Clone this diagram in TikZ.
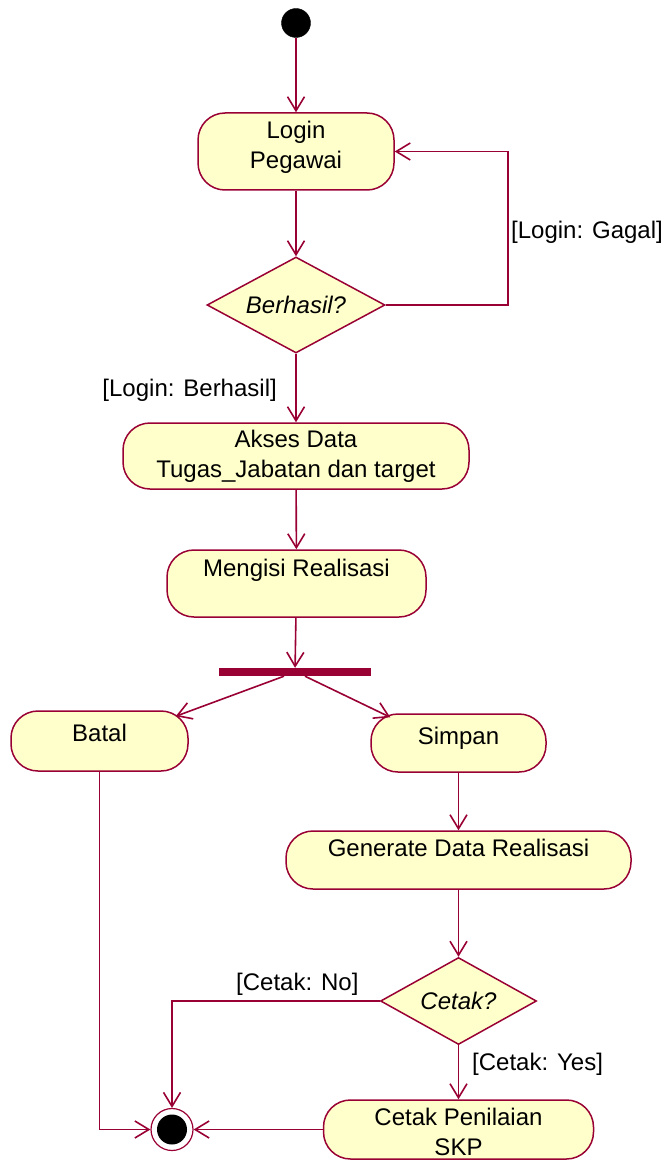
\documentclass[tikz,border=0pt]{standalone}
\usepackage{fontspec}
\setmainfont{Liberation Sans}
\usetikzlibrary{shapes.geometric,arrows.meta}
\definecolor{rline}{RGB}{153,0,51}
\definecolor{rfill}{RGB}{255,255,204}
\begin{document}
\begin{tikzpicture}[x=1pt,y=-1pt,
  font=\fontsize{24}{29.5}\selectfont,
  act/.style={draw=rline, fill=rfill, line width=1.5pt, rounded corners=27pt, inner sep=0pt},
  txt/.style={anchor=north, inner sep=0pt, align=center, text=black},
  dec/.style={diamond, draw=rline, fill=rfill, line width=1.5pt, inner sep=0pt, aspect=1.85, font=\fontsize{24}{29.5}\selectfont\itshape},
  flow/.style={draw=rline, line width=1.6pt, -{Straight Barb[length=14pt, width=17pt]}}]
\useasboundingbox (0,0) rectangle (666,1161);

% activity states
\node[circle, fill=black, draw=black, minimum size=29pt, inner sep=0pt] (start) at (296,23) {};
\node[act, minimum width=196pt, minimum height=77pt] (login) at (296,151.5) {};
\node[txt] (login-t) at (296,121) {Login\\Pegawai};
\node[dec, minimum width=178pt, minimum height=96pt] (d1) at (296,305) {Berhasil?};
\node[act, minimum width=346pt, minimum height=66pt] (akses) at (296,456) {};
\node[txt] (akses-t) at (296,430) {Akses Data\\Tugas\_Jabatan dan target};
\node[act, minimum width=259pt, minimum height=67pt] (mengisi) at (296.5,583.5) {};
\node[txt] (mengisi-t) at (296.5,559) {Mengisi Realisasi};
\node[fill=rline, minimum width=152pt, minimum height=8pt, inner sep=0pt] (bar) at (295,672) {};
\node[act, minimum width=177pt, minimum height=60pt] (batal) at (99.5,741) {};
\node[txt] (batal-t) at (99.5,724) {Batal};
\node[act, minimum width=175pt, minimum height=58pt] (simpan) at (458.5,743) {};
\node[txt] (simpan-t) at (458.5,727) {Simpan};
\node[act, minimum width=345pt, minimum height=58pt] (generate) at (458.5,860) {};
\node[txt] (generate-t) at (458.5,839) {Generate Data Realisasi};
\node[dec, minimum width=156pt, minimum height=87pt] (d2) at (458.5,1001) {Cetak?};
\node[act, minimum width=270pt, minimum height=59pt] (cetak) at (458.5,1129.5) {};
\node[txt] (cetak-t) at (458.5,1108) {Cetak Penilaian\\SKP};
\node[circle, draw=rline, fill=white, line width=1.2pt, minimum size=42pt, inner sep=0pt] (end) at (172,1129.5) {};
\node[circle, fill=black, minimum size=30pt, inner sep=0pt] (endc) at (end) {};

% guard labels
\node[txt, anchor=north west] (lg) at (511,221) {[Login: Gagal]};
\node[txt, anchor=north east] (lb) at (277,379) {[Login: Berhasil]};
\node[txt, anchor=north west] (cn) at (236,973) {[Cetak: No]};
\node[txt, anchor=north west] (cy) at (472,1053) {[Cetak: Yes]};

% transitions
\coordinate (gk) at (508,151.5);
\draw[flow] (start) -- (login);
\draw[flow] (login) -- (d1);
\draw[flow] (d1.east) -| (gk) -- (login.east);
\draw[flow] (d1) -- (akses);
\draw[flow] (akses) -- (mengisi);
\draw[flow] (mengisi) -- (bar);
\draw[flow] ([xshift=-11pt]bar.south) -- ([xshift=-13pt,yshift=-6pt]batal.north east);
\draw[flow] ([xshift=10pt]bar.south) -- ([xshift=20pt,yshift=-4pt]simpan.north west);
\draw[flow] (batal.south) |- (end.west);
\draw[flow] (simpan) -- (generate);
\draw[flow] (generate) -- (d2);
\draw[flow] (d2.west) -| (end.north);
\draw[flow] (d2) -- (cetak);
\draw[flow] (cetak.west) -- (end.east);
\end{tikzpicture}
\end{document}
